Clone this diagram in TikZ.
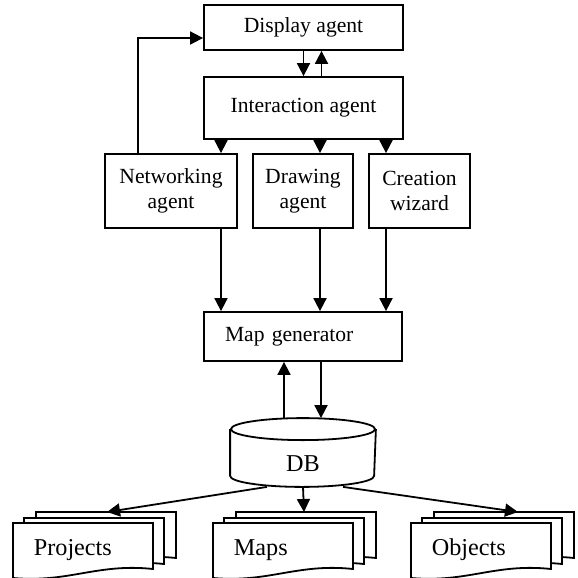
\documentclass[tikz,border=0pt]{standalone}
\usepackage{fontspec}
\setmainfont{Liberation Serif}
\usepackage{tikz}
\usetikzlibrary{arrows.meta}

\begin{document}
\begin{tikzpicture}[x=0.5pt, y=0.5pt, line width=0.9pt,
	agent/.style={draw, align=center, inner sep=0pt, minimum height=37pt},
	link/.style={-{Triangle[length=6.5pt, width=6.5pt]}},
	sheet/.style={draw, fill=white},
	biglabel/.style={font=\fontsize{12.1}{14}\selectfont}]
	\fontsize{10.8}{12.4}\selectfont
	\useasboundingbox (0,0) rectangle (578,-578);
	\node[agent, minimum width=99.5pt, minimum height=22.5pt] (disp) at (303.5,-27.5) {Display agent};
	\node[agent, minimum width=99.5pt, minimum height=31pt] (inter) at (303.5,-108) {Interaction agent};
	\node[agent, minimum width=66pt] (net) at (171,-191) {Networking\\agent};
	\node[agent, minimum width=50pt] (drw) at (303,-191) {Drawing\\agent};
	\node[agent, minimum width=50.5pt] (wiz) at (419.5,-191) {Creation\\wizard};
	\node[agent, minimum height=24.5pt, text width=78pt, inner xsep=10.5pt, align=left] (mapgen) at (303,-336.5) {Map generator};
	\node[biglabel, minimum width=72pt, minimum height=22.5pt, inner sep=0pt] (db) at (303,-463.5) {DB};
	\draw ([yshift=5.5pt]db.north) ellipse [x radius=72, y radius=11];
	\draw ([yshift=5.5pt]db.north west) -- ([yshift=5.5pt]db.south west) arc[start angle=180, end angle=360, x radius=72, y radius=11] -- ([yshift=5.5pt]db.north east);
	\foreach \name/\l/\lab/\ax in {proj/13/Projects/107, maps/213/Maps/304, objs/411/Objects/518} {
		\foreach \dx/\dy in {23/11, 11/5, 0/0}
			\filldraw[sheet] ({\l+\dx},{-523+\dy}) -- ({\l+\dx+140},{-523+\dy}) -- ({\l+\dx+140},{-569+\dy}) .. controls ({\l+\dx+84},{-563+\dy}) and ({\l+\dx+56},{-583+\dy}) .. ({\l+\dx},{-578+\dy}) -- cycle;
		\node[biglabel, anchor=base west, inner sep=0pt] (\name) at ({\l+20},-555) {\lab};
		\coordinate (\name-in) at (\ax,-512);
	}
	\coordinate (netx) at (221,0);
	\coordinate (drwx) at (320,0);
	\coordinate (wizx) at (386,0);
	\coordinate (upx) at (284,0);
	\coordinate (dnx) at (321,0);
	\coordinate (dbtop) at ([yshift=11pt]db.north);
	\draw[link] (disp.south) -- (inter.north);
	\draw[link] ([xshift=9pt]inter.north) -- ([xshift=9pt]disp.south);
	\draw[link] ([xshift=-16.5pt]net.north) |- ([yshift=-5.25pt]disp.west);
	\foreach \a/\x in {net/netx, drw/drwx, wiz/wizx} {
		\draw[link] (inter.south -| \x) -- (\a.north -| \x);
		\draw[link] (\a.south -| \x) -- (mapgen.north -| \x);
	}
	\draw[link] (dbtop -| upx) -- (mapgen.south -| upx);
	\draw[link] (mapgen.south -| dnx) -- (dbtop -| dnx);
	\draw[link] ([xshift=-18pt]db.south) -- (proj-in);
	\draw[link] (db.south) -- (maps-in);
	\draw[link] ([xshift=20pt]db.south) -- (objs-in);
\end{tikzpicture}
\end{document}
